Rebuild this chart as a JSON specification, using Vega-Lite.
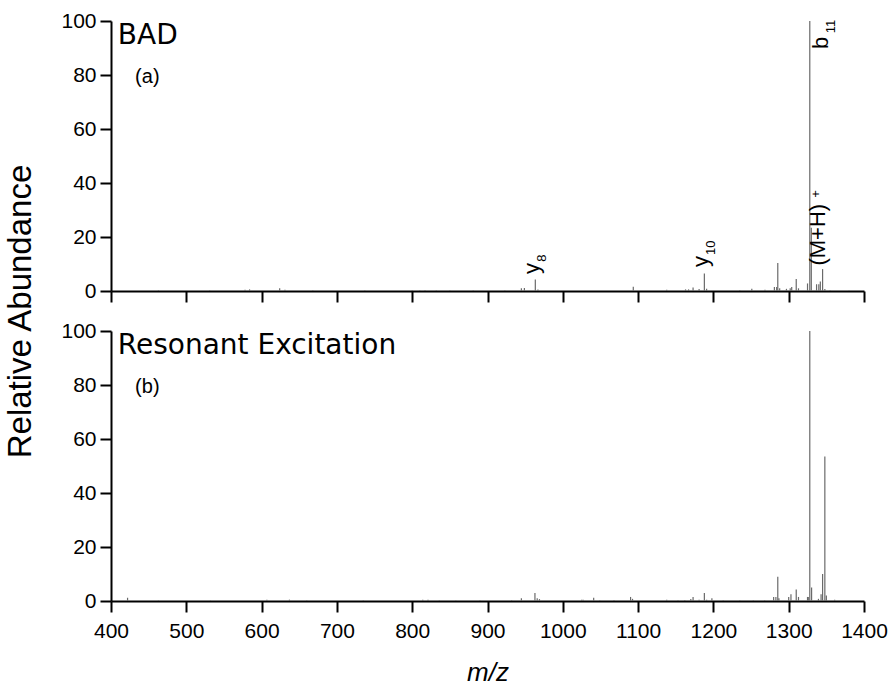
{
  "$schema": "https://vega.github.io/schema/vega-lite/v6.json",
  "padding": {"left": 4, "top": 10, "right": 5, "bottom": 5},
  "config": {
    "view": {"stroke": null},
    "font": "Liberation Sans",
    "axis": {
      "domainColor": "black", "domainWidth": 2, "tickColor": "black", "tickWidth": 2,
      "grid": false, "labelColor": "black", "labelFont": "Liberation Sans", "labelFontSize": 21,
      "labelOverlap": false, "labelFlush": false, "format": "d",
      "titleColor": "black", "titleFontWeight": "normal", "titleFont": "Liberation Sans"
    }
  },
  "datasets": {
    "peaks": [
      {"panel": "a", "mz": 463, "ab": 0.3}, {"panel": "a", "mz": 531, "ab": 0.3}, {"panel": "a", "mz": 578, "ab": 0.5},
      {"panel": "a", "mz": 584, "ab": 0.6}, {"panel": "a", "mz": 624, "ab": 1.0}, {"panel": "a", "mz": 631, "ab": 0.5},
      {"panel": "a", "mz": 668, "ab": 0.3}, {"panel": "a", "mz": 737, "ab": 0.3}, {"panel": "a", "mz": 800, "ab": 0.3},
      {"panel": "a", "mz": 810, "ab": 0.3}, {"panel": "a", "mz": 817, "ab": 0.4}, {"panel": "a", "mz": 832, "ab": 0.3},
      {"panel": "a", "mz": 850, "ab": 0.3}, {"panel": "a", "mz": 881, "ab": 0.3}, {"panel": "a", "mz": 923, "ab": 0.3},
      {"panel": "a", "mz": 945, "ab": 1.0}, {"panel": "a", "mz": 949, "ab": 1.1}, {"panel": "a", "mz": 963.5, "ab": 4.3},
      {"panel": "a", "mz": 967, "ab": 0.6}, {"panel": "a", "mz": 1093.6, "ab": 1.6}, {"panel": "a", "mz": 1138, "ab": 0.5},
      {"panel": "a", "mz": 1163, "ab": 0.6}, {"panel": "a", "mz": 1167, "ab": 0.6}, {"panel": "a", "mz": 1173, "ab": 1.3},
      {"panel": "a", "mz": 1181, "ab": 0.7}, {"panel": "a", "mz": 1188, "ab": 6.5}, {"panel": "a", "mz": 1191, "ab": 0.8},
      {"panel": "a", "mz": 1235, "ab": 0.4}, {"panel": "a", "mz": 1251, "ab": 0.8}, {"panel": "a", "mz": 1268.5, "ab": 0.5},
      {"panel": "a", "mz": 1281, "ab": 1.5}, {"panel": "a", "mz": 1284, "ab": 1.5}, {"panel": "a", "mz": 1285.5, "ab": 10.4},
      {"panel": "a", "mz": 1288, "ab": 1.0}, {"panel": "a", "mz": 1297, "ab": 0.8}, {"panel": "a", "mz": 1302, "ab": 1.0},
      {"panel": "a", "mz": 1304, "ab": 1.5}, {"panel": "a", "mz": 1310, "ab": 4.4}, {"panel": "a", "mz": 1313, "ab": 1.0},
      {"panel": "a", "mz": 1325, "ab": 2.8}, {"panel": "a", "mz": 1328, "ab": 100}, {"panel": "a", "mz": 1330, "ab": 23.4},
      {"panel": "a", "mz": 1337, "ab": 2.5}, {"panel": "a", "mz": 1340, "ab": 2.5}, {"panel": "a", "mz": 1342, "ab": 3.5},
      {"panel": "a", "mz": 1345, "ab": 8.1}, {"panel": "a", "mz": 1348, "ab": 0.7}, {"panel": "a", "mz": 1355, "ab": 0.3},
      {"panel": "a", "mz": 1380, "ab": 0.2},
      {"panel": "b", "mz": 422, "ab": 1.2}, {"panel": "b", "mz": 463, "ab": 0.2}, {"panel": "b", "mz": 532, "ab": 0.2},
      {"panel": "b", "mz": 607, "ab": 0.5}, {"panel": "b", "mz": 637, "ab": 0.5}, {"panel": "b", "mz": 660, "ab": 0.3},
      {"panel": "b", "mz": 735, "ab": 0.3}, {"panel": "b", "mz": 814, "ab": 0.5}, {"panel": "b", "mz": 821, "ab": 0.5},
      {"panel": "b", "mz": 836, "ab": 0.3}, {"panel": "b", "mz": 858, "ab": 0.2}, {"panel": "b", "mz": 890, "ab": 0.3},
      {"panel": "b", "mz": 932, "ab": 0.3}, {"panel": "b", "mz": 945, "ab": 1.0}, {"panel": "b", "mz": 963, "ab": 3.0},
      {"panel": "b", "mz": 966, "ab": 1.0}, {"panel": "b", "mz": 969, "ab": 0.7}, {"panel": "b", "mz": 1025, "ab": 0.5},
      {"panel": "b", "mz": 1027, "ab": 0.5}, {"panel": "b", "mz": 1041, "ab": 1.2}, {"panel": "b", "mz": 1049, "ab": 0.3},
      {"panel": "b", "mz": 1068, "ab": 0.4}, {"panel": "b", "mz": 1090, "ab": 1.5}, {"panel": "b", "mz": 1092.6, "ab": 0.8},
      {"panel": "b", "mz": 1138, "ab": 0.5}, {"panel": "b", "mz": 1153, "ab": 0.3}, {"panel": "b", "mz": 1162, "ab": 0.4},
      {"panel": "b", "mz": 1170, "ab": 0.7}, {"panel": "b", "mz": 1173, "ab": 1.5}, {"panel": "b", "mz": 1181, "ab": 0.5},
      {"panel": "b", "mz": 1188, "ab": 3.0}, {"panel": "b", "mz": 1191, "ab": 0.5}, {"panel": "b", "mz": 1198, "ab": 1.0},
      {"panel": "b", "mz": 1213, "ab": 0.3}, {"panel": "b", "mz": 1235, "ab": 0.3}, {"panel": "b", "mz": 1253, "ab": 0.3},
      {"panel": "b", "mz": 1268, "ab": 0.3}, {"panel": "b", "mz": 1280, "ab": 1.5}, {"panel": "b", "mz": 1283, "ab": 1.5},
      {"panel": "b", "mz": 1285.5, "ab": 9.0}, {"panel": "b", "mz": 1287, "ab": 1.0}, {"panel": "b", "mz": 1300, "ab": 1.5},
      {"panel": "b", "mz": 1303, "ab": 2.5}, {"panel": "b", "mz": 1310, "ab": 4.3}, {"panel": "b", "mz": 1313, "ab": 1.5},
      {"panel": "b", "mz": 1325, "ab": 1.5}, {"panel": "b", "mz": 1326, "ab": 1.5}, {"panel": "b", "mz": 1328, "ab": 100},
      {"panel": "b", "mz": 1330.4, "ab": 5.0}, {"panel": "b", "mz": 1339.5, "ab": 0.8}, {"panel": "b", "mz": 1343, "ab": 2.5},
      {"panel": "b", "mz": 1345, "ab": 10}, {"panel": "b", "mz": 1348, "ab": 53.5}, {"panel": "b", "mz": 1350, "ab": 2},
      {"panel": "b", "mz": 1361, "ab": 0.5}
    ],
    "titles": [
      {"panel": "a", "role": "name", "text": "BAD", "mz": 409, "ab": 91.5},
      {"panel": "a", "role": "tag", "text": "(a)", "mz": 432, "ab": 77},
      {"panel": "b", "role": "name", "text": "Resonant Excitation", "mz": 409, "ab": 91.5},
      {"panel": "b", "role": "tag", "text": "(b)", "mz": 432, "ab": 77}
    ],
    "labels": [
      {"role": "main", "text": "y", "mz": 968.4, "ab": 6.3},
      {"role": "sub", "text": "8", "mz": 978, "ab": 10.8},
      {"role": "main", "text": "y", "mz": 1192.3, "ab": 8.9},
      {"role": "sub", "text": "10", "mz": 1202, "ab": 13.3},
      {"role": "main", "text": "(M+H)", "mz": 1348.2, "ab": 9.4},
      {"role": "sub", "text": "+", "mz": 1342, "ab": 34.5},
      {"role": "main", "text": "b", "mz": 1352, "ab": 89.6},
      {"role": "sub", "text": "11", "mz": 1361, "ab": 95.5}
    ]
  },
  "spacing": 40,
  "bounds": "flush",
  "vconcat": [
    {
      "width": 753, "height": 270,
      "layer": [
        {
          "data": {"name": "peaks"},
          "transform": [{"filter": "datum.panel === 'a'"}],
          "mark": {"type": "rule", "color": "#6a6a6a", "strokeWidth": 1.2},
          "encoding": {
            "x": {"field": "mz", "type": "quantitative",
              "scale": {"domain": [400, 1400], "nice": false, "zero": false},
              "axis": {"values": [400,450,500,550,600,650,700,750,800,850,900,950,1000,1050,1100,1150,1200,1250,1300,1350,1400],
                "labels": false, "title": null,
                "tickSize": {"condition": {"test": "datum.value % 100 === 0", "value": 11}, "value": 6}}},
            "y": {"field": "ab", "type": "quantitative",
              "scale": {"domain": [0, 100], "nice": false},
              "axis": {"values": [0,10,20,30,40,50,60,70,80,90,100],
                "labelExpr": "datum.value % 20 === 0 ? datum.label : ''",
                "tickSize": {"condition": {"test": "datum.value % 20 === 0", "value": 11}, "value": 6},
                "labelPadding": 4,
                "title": "Relative Abundance", "titleFontSize": 33, "titleX": -74, "titleY": 290}},
            "y2": {"datum": 0}
          }
        },
        {
          "data": {"name": "titles"},
          "transform": [{"filter": "datum.panel === 'a' && datum.role === 'name'"}],
          "mark": {"type": "text", "align": "left", "baseline": "alphabetic", "font": "DejaVu Sans", "fontSize": 28, "color": "black"},
          "encoding": {"x": {"field": "mz", "type": "quantitative"}, "y": {"field": "ab", "type": "quantitative"}, "text": {"field": "text"}}
        },
        {
          "data": {"name": "titles"},
          "transform": [{"filter": "datum.panel === 'a' && datum.role === 'tag'"}],
          "mark": {"type": "text", "align": "left", "baseline": "alphabetic", "font": "Liberation Sans", "fontSize": 20, "color": "black"},
          "encoding": {"x": {"field": "mz", "type": "quantitative"}, "y": {"field": "ab", "type": "quantitative"}, "text": {"field": "text"}}
        },
        {
          "data": {"name": "labels"},
          "transform": [{"filter": "datum.role === 'main'"}],
          "mark": {"type": "text", "align": "left", "baseline": "alphabetic", "angle": 270, "font": "Liberation Sans", "fontSize": 22, "color": "black"},
          "encoding": {"x": {"field": "mz", "type": "quantitative"}, "y": {"field": "ab", "type": "quantitative"}, "text": {"field": "text"}}
        },
        {
          "data": {"name": "labels"},
          "transform": [{"filter": "datum.role === 'sub'"}],
          "mark": {"type": "text", "align": "left", "baseline": "alphabetic", "angle": 270, "font": "Liberation Sans", "fontSize": 13, "color": "black"},
          "encoding": {"x": {"field": "mz", "type": "quantitative"}, "y": {"field": "ab", "type": "quantitative"}, "text": {"field": "text"}}
        }
      ]
    },
    {
      "width": 753, "height": 270,
      "layer": [
        {
          "data": {"name": "peaks"},
          "transform": [{"filter": "datum.panel === 'b'"}],
          "mark": {"type": "rule", "color": "#6a6a6a", "strokeWidth": 1.2},
          "encoding": {
            "x": {"field": "mz", "type": "quantitative",
              "scale": {"domain": [400, 1400], "nice": false, "zero": false},
              "axis": {"values": [400,450,500,550,600,650,700,750,800,850,900,950,1000,1050,1100,1150,1200,1250,1300,1350,1400],
                "labelExpr": "datum.value % 100 === 0 ? datum.label : ''",
                "labelPadding": 8,
                "tickSize": {"condition": {"test": "datum.value % 100 === 0", "value": 11}, "value": 6},
                "title": "m/z", "titleFontSize": 26, "titleFontStyle": "italic", "titlePadding": 18}},
            "y": {"field": "ab", "type": "quantitative",
              "scale": {"domain": [0, 100], "nice": false},
              "axis": {"values": [0,10,20,30,40,50,60,70,80,90,100],
                "labelExpr": "datum.value % 20 === 0 ? datum.label : ''",
                "tickSize": {"condition": {"test": "datum.value % 20 === 0", "value": 11}, "value": 6},
                "labelPadding": 4, "title": null}},
            "y2": {"datum": 0}
          }
        },
        {
          "data": {"name": "titles"},
          "transform": [{"filter": "datum.panel === 'b' && datum.role === 'name'"}],
          "mark": {"type": "text", "align": "left", "baseline": "alphabetic", "font": "DejaVu Sans", "fontSize": 28, "color": "black"},
          "encoding": {"x": {"field": "mz", "type": "quantitative"}, "y": {"field": "ab", "type": "quantitative"}, "text": {"field": "text"}}
        },
        {
          "data": {"name": "titles"},
          "transform": [{"filter": "datum.panel === 'b' && datum.role === 'tag'"}],
          "mark": {"type": "text", "align": "left", "baseline": "alphabetic", "font": "Liberation Sans", "fontSize": 20, "color": "black"},
          "encoding": {"x": {"field": "mz", "type": "quantitative"}, "y": {"field": "ab", "type": "quantitative"}, "text": {"field": "text"}}
        }
      ]
    }
  ]
}
